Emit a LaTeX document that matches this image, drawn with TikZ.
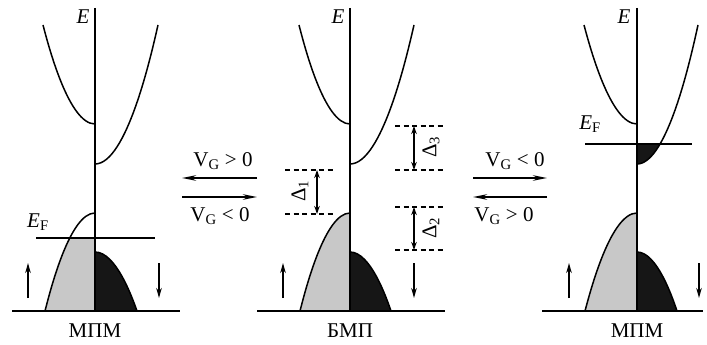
\documentclass[tikz,border=0pt]{standalone}
\usepackage{fontspec}
\setmainfont{Liberation Serif}
\usetikzlibrary{arrows.meta,positioning}
\usepackage{xcolor}
\definecolor{spinup}{HTML}{C8C8C8}
\definecolor{spindown}{HTML}{161616}

\begin{document}
\begin{tikzpicture}[x=1pt, y=-1pt,
    axis/.style={line width=1.8pt},
    band/.style={line width=1.5pt},
    base/.style={line width=2.3pt},
    fermi/.style={line width=1.8pt},
    gapline/.style={line width=1.4pt, dash pattern=on 5pt off 3.5pt},
    gaparrow/.style={line width=1.5pt, {Stealth[length=8pt, width=5.5pt]}-{Stealth[length=8pt, width=5.5pt]}},
    spinarrow/.style={line width=1.6pt, -{Stealth[length=10pt, width=5.5pt]}},
    gate/.style={line width=2pt, -{Stealth[length=14pt, width=5.5pt]}},
    elabel/.style={font=\fontsize{21}{23}\selectfont, inner sep=0pt},
    vlabel/.style={font=\fontsize{21}{23}\selectfont, inner sep=0pt},
    phase/.style={font=\fontsize{21}{23}\selectfont, inner sep=0pt},
    dlabel/.style={font=\fontsize{21}{23}\selectfont, inner sep=0pt, rotate=90},
]
\useasboundingbox (0,0) rectangle (707,345);

% left panel: spin-up Fermi level in the valence band
\begin{scope}[xshift=95]
\begin{scope}
\clip (-60,238) rectangle (0,311);
\fill[spinup] (0,311) -- (-50,311) parabola[bend at end] (0,213) -- cycle;
\end{scope}
\fill[spindown] (0,311) -- (0,252) parabola (42,311) -- cycle;
\draw[band] (-50,311) parabola[bend at end] (0,213);
\draw[band] (0,252) parabola (42,311);
\draw[band] (0,124) parabola (-52,25);
\draw[band] (0,164) parabola (63,25);
\draw[base] (-83,311) -- (85,311);
\draw[axis] (0,8) -- (0,311);
\draw[fermi] (-59,238) -- (60,238);
\coordinate (up1a) at (-67,298); \coordinate (up1b) at (-67,263);
\coordinate (dn1a) at (64,263); \coordinate (dn1b) at (64,298);
\draw[spinarrow] (up1a) -- (up1b);
\draw[spinarrow] (dn1a) -- (dn1b);
\node[elabel] (e1) at (-12,17) {\textit{E}};
\node[elabel] (ef1) at (-57,222) {\textit{E}\textsubscript{F}};
\node[phase] (mpm1) at (0,331) {МПМ};
\end{scope}

% middle panel
\begin{scope}[xshift=350]
\fill[spinup] (0,311) -- (-50,311) parabola[bend at end] (0,213) -- cycle;
\fill[spindown] (0,311) -- (0,252) parabola (41,311) -- cycle;
\draw[band] (-50,311) parabola[bend at end] (0,213);
\draw[band] (0,252) parabola (41,311);
\draw[band] (0,124) parabola (-51,25);
\draw[band] (0,164) parabola (64,25);
\draw[base] (-93,311) -- (95,311);
\draw[axis] (0,8) -- (0,311);
\coordinate (up2a) at (-67,298); \coordinate (up2b) at (-67,263);
\coordinate (dn2a) at (64,263); \coordinate (dn2b) at (64,298);
\draw[spinarrow] (up2a) -- (up2b);
\draw[spinarrow] (dn2a) -- (dn2b);
\draw[gapline] (-65,170) -- (-17,170);
\draw[gapline] (-65,214) -- (-17,214);
\draw[gapline] (45,126) -- (93,126);
\draw[gapline] (45,170) -- (93,170);
\draw[gapline] (45,207) -- (93,207);
\draw[gapline] (45,250) -- (93,250);
\coordinate (d1a) at (-33,170); \coordinate (d1b) at (-33,214);
\coordinate (d3a) at (64,126); \coordinate (d3b) at (64,170);
\coordinate (d2a) at (64,207); \coordinate (d2b) at (64,250);
\draw[gaparrow] (d1a) -- (d1b);
\draw[gaparrow] (d3a) -- (d3b);
\draw[gaparrow] (d2a) -- (d2b);
\node[dlabel] (del1) at (-50,191) {Δ\textsubscript{1}};
\node[dlabel] (del3) at (81,147) {Δ\textsubscript{3}};
\node[dlabel] (del2) at (81,228) {Δ\textsubscript{2}};
\node[elabel] (e2) at (-12,17) {\textit{E}};
\node[phase] (bmp) at (0,331) {БМП};
\end{scope}

% right panel: spin-down Fermi level in the conduction band
\begin{scope}[xshift=637]
\begin{scope}
\clip (0,144) rectangle (70,165);
\fill[spindown] (0,164) parabola (61,25) -- (0,25) -- cycle;
\end{scope}
\fill[spinup] (0,311) -- (-52,311) parabola[bend at end] (0,213) -- cycle;
\fill[spindown] (0,311) -- (0,252) parabola (40,311) -- cycle;
\draw[band] (-52,311) parabola[bend at end] (0,213);
\draw[band] (0,252) parabola (40,311);
\draw[band] (0,124) parabola (-53,25);
\draw[band] (0,164) parabola (61,25);
\draw[base] (-95,311) -- (66,311);
\draw[axis] (0,8) -- (0,311);
\draw[fermi] (-52,144) -- (55,144);
\coordinate (up3a) at (-68,298); \coordinate (up3b) at (-68,263);
\coordinate (dn3a) at (62,263); \coordinate (dn3b) at (62,298);
\draw[spinarrow] (up3a) -- (up3b);
\draw[spinarrow] (dn3a) -- (dn3b);
\node[elabel] (e3) at (-13,17) {\textit{E}};
\node[elabel] (ef3) at (-47,124) {\textit{E}\textsubscript{F}};
\node[phase] (mpm3) at (0,331) {МПМ};
\end{scope}

% gate voltage switching
\coordinate (g1w) at (182,178); \coordinate (g1e) at (257,178);
\coordinate (g2w) at (182,197); \coordinate (g2e) at (257,197);
\coordinate (g3w) at (473,178); \coordinate (g3e) at (547,178);
\coordinate (g4w) at (473,197); \coordinate (g4e) at (547,197);
\draw[gate] (g1e) -- (g1w);
\draw[gate] (g2w) -- (g2e);
\draw[gate] (g3w) -- (g3e);
\draw[gate] (g4e) -- (g4w);
\node[vlabel] (vg1) at (223,161) {V\textsubscript{G} > 0};
\node[vlabel] (vg2) at (220,216) {V\textsubscript{G} < 0};
\node[vlabel] (vg3) at (515,161) {V\textsubscript{G} < 0};
\node[vlabel] (vg4) at (504,216) {V\textsubscript{G} > 0};

\end{tikzpicture}
\end{document}
